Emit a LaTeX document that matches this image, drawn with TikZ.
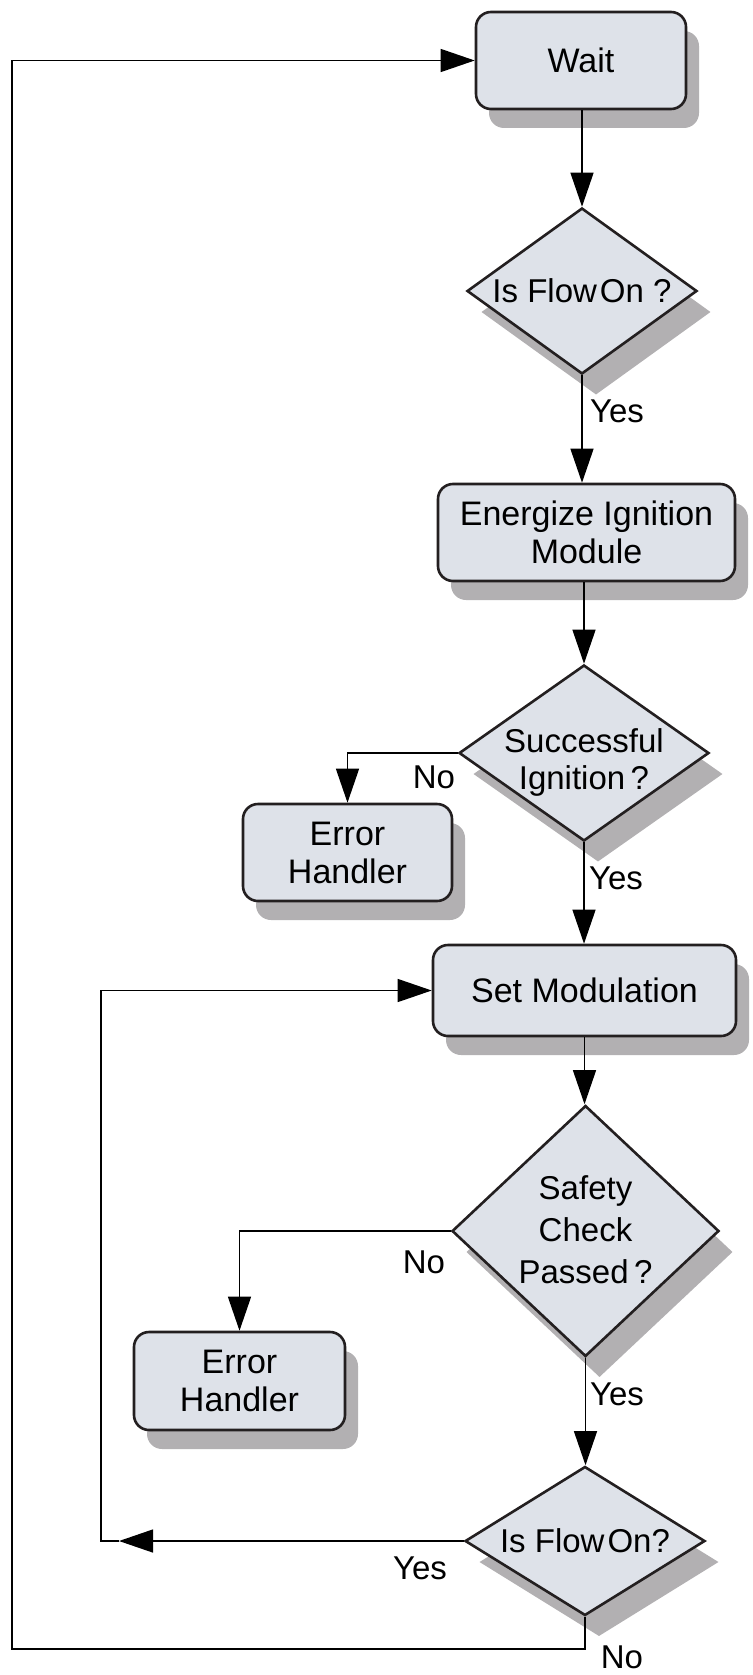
\documentclass[tikz,border=0pt]{standalone}
\usepackage{fontspec}
\setmainfont{Liberation Sans}
\usetikzlibrary{shapes.geometric,arrows.meta,shadows}
\definecolor{boxfill}{RGB}{222,226,233}
\definecolor{shadowgray}{RGB}{178,176,178}
\definecolor{edge}{RGB}{35,31,32}
\tikzset{
  procbox/.style={rectangle, rounded corners=15pt, draw=edge, line width=2.6pt, fill=boxfill,
    inner sep=0pt, align=center,
    drop shadow={shadow xshift=13pt, shadow yshift=-19pt, fill=shadowgray, opacity=1},
    font=\fontsize{34}{38}\selectfont},
  decbox/.style={diamond, draw=edge, line width=2.6pt, fill=boxfill, inner sep=0pt,
    drop shadow={shadow xshift=14pt, shadow yshift=-21pt, fill=shadowgray, opacity=1}},
  dectext/.style={align=center, inner sep=0pt, font=\fontsize{33}{37}\selectfont},
  lbl/.style={inner sep=0pt, font=\fontsize{33}{38}\selectfont},
  conn/.style={draw=black, line width=1.3pt},
  arr/.style={conn, -{Triangle[length=34pt,width=23pt]}}
}
\begin{document}
\begin{tikzpicture}[x=1pt,y=-1pt]
\useasboundingbox (0,0) rectangle (752,1675);
% boxes
\node[procbox, minimum width=210pt, minimum height=97pt] (w) at (581,60.5) {Wait};
\node[decbox, minimum width=230pt, minimum height=166pt] (d1) at (582,291) {};
\node[dectext] at (d1) {Is Flow\hspace{3pt}On ?};
\node[procbox, minimum width=297pt, minimum height=97pt] (e) at (586.5,532.5) {Energize Ignition\\Module};
\node[decbox, minimum width=250pt, minimum height=176pt] (d2) at (584,753) {};
\node[dectext] at (584,762) {Successful\\Ignition\,?};
\node[procbox, minimum width=209pt, minimum height=97pt] (eh1) at (347.5,852.5) {Error\\Handler};
\node[procbox, minimum width=303pt, minimum height=91pt] (sm) at (584.5,990.5) {Set Modulation};
\node[decbox, minimum width=267pt, minimum height=251pt] (d3) at (585.5,1231) {};
\node[dectext, font=\fontsize{33}{42}\selectfont] at (585.5,1230) {Safety\\Check\\Passed\,?};
\node[procbox, minimum width=211pt, minimum height=98pt] (eh2) at (239.5,1381) {Error\\Handler};
\node[decbox, minimum width=240pt, minimum height=149pt] (d4) at (585,1541) {};
\node[dectext] at (d4) {Is Flow\hspace{3pt}On?};
% coordinates
\coordinate (c1) at (119,1541);
\coordinate (c2) at (101,1541);
\coordinate (c3) at (585,1649);
\coordinate (c4) at (12,1649);
% connectors
\draw[arr] (w.south -| d1.north) -- (d1.north);
\draw[arr] (d1.south) -- (d1.south |- e.north);
\draw[arr] (d2.north |- e.south) -- (d2.north);
\draw[arr] (d2.west) -| (eh1.north);
\draw[arr] (d2.south) -- (d2.south |- sm.north);
\draw[arr] (sm.south) -- (sm.south |- d3.north);
\draw[arr] (d3.west) -| (eh2.north);
\draw[arr] (d3.south) -- (d3.south |- d4.north);
\draw[arr] (d4.west) -- (c1);
\draw[arr] (c1) -- (c2) |- (sm.west);
\draw[arr] (d4.south) -- (c3) -- (c4) |- (w.west);
% labels
\node[lbl] at (617,411) {Yes};
\node[lbl] at (434,777) {No};
\node[lbl] at (616,878) {Yes};
\node[lbl] at (424,1262) {No};
\node[lbl] at (617,1394) {Yes};
\node[lbl] at (420,1568) {Yes};
\node[lbl] at (622,1657) {No};
\end{tikzpicture}
\end{document}
